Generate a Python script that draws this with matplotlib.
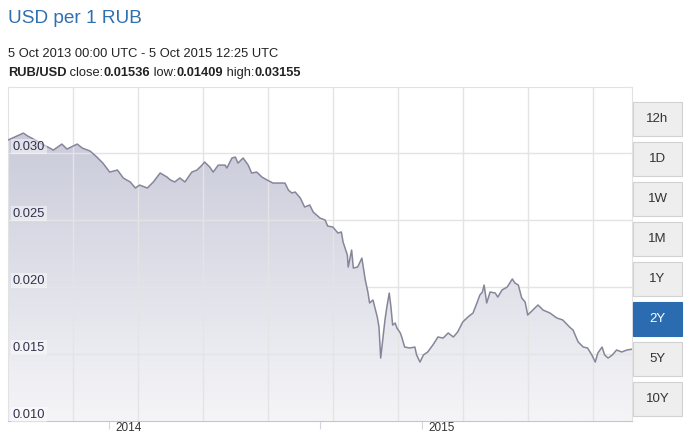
import matplotlib

matplotlib.use("Agg")

import matplotlib.pyplot as plt
import numpy as np
from matplotlib.patches import Rectangle
from matplotlib.transforms import blended_transform_factory

plt.rcParams["font.family"] = ["Liberation Sans", "DejaVu Sans"]

# days since 5 Oct 2013 and RUB/USD rate
days = [0, 8, 18, 23, 32, 40, 49, 53, 63, 69, 81, 87, 96, 104, 111, 119, 128, 135,
        143, 149, 154, 163, 170, 178, 186, 190, 195, 201, 207, 215, 221, 227, 230,
        236, 240, 246, 254, 256, 262, 266, 269, 275, 281, 285, 291, 297, 303, 310,
        324, 328, 332, 336, 342, 347, 353, 357, 365, 371, 374, 380, 386, 390, 392,
        397, 398, 402, 404, 409, 414, 418, 421, 423, 427, 432, 434, 436, 439, 441,
        443, 446, 448, 450, 453, 455, 459, 461, 464, 470, 476, 478, 482, 486, 491,
        497, 503, 509, 515, 521, 526, 532, 538, 544, 549, 552, 555, 557, 560, 564,
        570, 573, 578, 584, 590, 593, 597, 601, 605, 608, 614, 620, 626, 634, 642,
        649, 657, 661, 667, 673, 678, 683, 687, 690, 695, 698, 702, 707, 712, 718,
        724, 730]
rate = [0.03097, 0.03120, 0.03149, 0.03127, 0.03097, 0.03067, 0.03037, 0.03022,
        0.03067, 0.03030, 0.03067, 0.03037, 0.03015, 0.02970, 0.02925, 0.02858,
        0.02873, 0.02813, 0.02784, 0.02739, 0.02761, 0.02739, 0.02784, 0.02851,
        0.02821, 0.02799, 0.02784, 0.02814, 0.02784, 0.02858, 0.02873, 0.02910,
        0.02933, 0.02896, 0.02858, 0.02910, 0.02910, 0.02888, 0.02963, 0.02970,
        0.02925, 0.02963, 0.02910, 0.02851, 0.02858, 0.02821, 0.02799, 0.02776,
        0.02776, 0.02724, 0.02702, 0.02709, 0.02664, 0.02597, 0.02612, 0.02560,
        0.02515, 0.02500, 0.02455, 0.02448, 0.02403, 0.02411, 0.02336, 0.02239,
        0.02149, 0.02276, 0.02142, 0.02149, 0.02216, 0.02052, 0.01963, 0.01881,
        0.01903, 0.01776, 0.01702, 0.01470, 0.01642, 0.01754, 0.01843, 0.01955,
        0.01851, 0.01716, 0.01731, 0.01694, 0.01657, 0.01619, 0.01552, 0.01545,
        0.01552, 0.01493, 0.01440, 0.01493, 0.01515, 0.01567, 0.01627, 0.01619,
        0.01657, 0.01627, 0.01664, 0.01739, 0.01776, 0.01806, 0.01888, 0.01940,
        0.01963, 0.02015, 0.01881, 0.01963, 0.01955, 0.01925, 0.01978, 0.02000,
        0.02060, 0.02030, 0.02015, 0.01918, 0.01888, 0.01791, 0.01828, 0.01866,
        0.01828, 0.01806, 0.01769, 0.01754, 0.01701, 0.01679, 0.01590, 0.01552,
        0.01545, 0.01493, 0.01440, 0.01507, 0.01552, 0.01493, 0.01470, 0.01493,
        0.01530, 0.01515, 0.01530, 0.01536]

y_ticks = [0.010, 0.015, 0.020, 0.025, 0.030]
y_labels = ["0.010", "0.015", "0.020", "0.025", "0.030"]
year_days = [118, 484]
year_labels = ["2014", "2015"]
ranges = ["12h", "1D", "1W", "1M", "1Y", "2Y", "5Y", "10Y"]
active_range = "2Y"

W, H = 700, 433
fig = plt.figure(figsize=(7, 4.33), dpi=100)
ax = fig.add_axes([8 / W, (H - 421) / H, 624 / W, 334 / H])
x_max, y_min, y_max = 730, 0.010, 0.03493
ax.set_xlim(0, x_max)
ax.set_ylim(y_min, y_max)

# gradient fill clipped to the area under the line
grad = np.linspace(0, 1, 256).reshape(-1, 1)
cmap = matplotlib.colors.LinearSegmentedColormap.from_list("g", ["#f5f5f8", "#c3c4d5"])
img = ax.imshow(grad, extent=[0, x_max, y_min, y_max], origin="lower",
                aspect="auto", cmap=cmap, zorder=1)
poly = ax.fill_between(days, rate, y_min, color="none", zorder=1)
img.set_clip_path(poly.get_paths()[0], transform=ax.transData)
ax.plot(days, rate, color="#86869b", lw=1.1, zorder=3)

# grid: vertical lines every 65 px of the 624 px wide plot
ax.set_yticks(y_ticks[1:])
ax.set_xticks(np.arange(1, 10) * (65 * x_max / 624), minor=True)
ax.set_xticks(year_days + [365])
ax.grid(True, which="major", axis="y", color="#e4e4e4", lw=1, zorder=2)
ax.grid(True, which="minor", axis="x", color="#e4e4e4", lw=1, zorder=2)
ax.tick_params(axis="y", length=0, labelleft=False)
ax.tick_params(axis="x", which="minor", length=0)
ax.tick_params(axis="x", which="major", direction="out", length=6, color="#d5d5dd",
               labelbottom=False)
for s in ["top", "right", "left"]:
    ax.spines[s].set_color("#e2e2e2")
ax.spines["bottom"].set_color("#c4c4d8")

trans = blended_transform_factory(ax.transAxes, ax.transData)
for v, lab in zip(y_ticks, y_labels):
    ax.annotate(lab, xy=(0.008, v), xycoords=trans, xytext=(0, 2.5),
                textcoords="offset points", fontsize=9.3, color="#30304a",
                va="baseline", ha="left", zorder=4,
                bbox=dict(boxstyle="square,pad=0.12", fc="white", ec="none", alpha=0.45))

# year labels sit right of their tick, at the very bottom edge
xtrans = blended_transform_factory(ax.transData, ax.transAxes)
for d, lab in zip(year_days, year_labels):
    ax.annotate(lab, xy=(d, 0), xycoords=xtrans, xytext=(4.5, -6.9),
                textcoords="offset points", fontsize=8.5, color="#333333",
                va="baseline", ha="left", annotation_clip=False)

# titles
fig.text(8 / W, 1 - 23 / H, "USD per 1 RUB", fontsize=13.7, color="#2f70b0",
         va="baseline")
fig.text(8 / W, 1 - 57 / H, "5 Oct 2013 00:00 UTC - 5 Oct 2015 12:25 UTC",
         fontsize=9.3, color="#222222", va="baseline")
parts = [("RUB/USD", "bold"), (" close:", "normal"), ("0.01536", "bold"),
         (" low:", "normal"), ("0.01409", "bold"), (" high:", "normal"),
         ("0.03155", "bold")]
part_texts = [fig.text(8 / W, 1 - 76 / H, txt, fontsize=9.3, fontweight=wt,
                       color="#222222", va="baseline") for txt, wt in parts]
fig.canvas.draw()
r = fig.canvas.get_renderer()
x_cur = 8 / W
for t in part_texts:
    t.set_x(x_cur)
    x_cur += t.get_window_extent(r).width / W

# range buttons
for i, lab in enumerate(ranges):
    top = 102 + 40 * i
    on = lab == active_range
    fig.patches.append(Rectangle((633 / W, 1 - (top + 34) / H), 49 / W, 34 / H,
                                 transform=fig.transFigure, figure=fig,
                                 fc="#2b6cb0" if on else "#eeeeee",
                                 ec="#2b6cb0" if on else "#d2d2d2", lw=0.8))
    fig.text(657.5 / W, 1 - (top + 17) / H, lab, fontsize=9.5,
             color="white" if on else "#333333", ha="center", va="center")

fig.savefig("out.png", dpi=100)
plt.close(fig)
